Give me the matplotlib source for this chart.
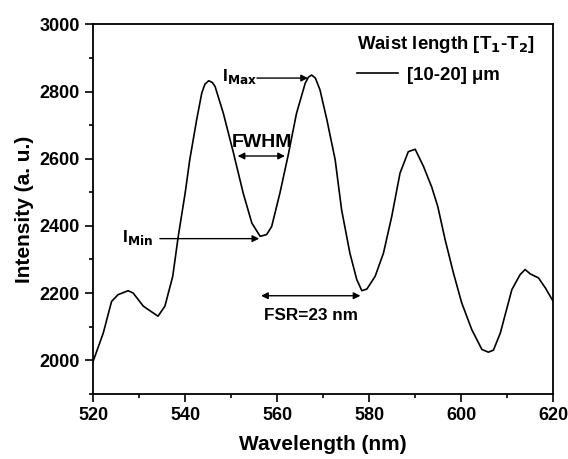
import matplotlib.pyplot as plt
from matplotlib.ticker import MultipleLocator

plt.rcParams['font.family'] = ['Liberation Sans', 'DejaVu Sans']
plt.rcParams['font.weight'] = 'bold'
plt.rcParams['mathtext.default'] = 'bf'

# spectrum
wavelength = [520.0, 522.2, 524.0, 525.4, 527.6, 528.7, 530.9, 534.1, 535.6, 537.3,
              538.5, 540.0, 541.0, 542.5, 543.6, 544.3, 545.1, 545.9, 546.5, 548.3,
              550.5, 552.6, 554.5, 556.3, 557.7, 558.8, 560.6, 562.4, 564.2, 566.1,
              566.8, 567.5, 568.3, 569.3, 570.8, 572.6, 574.0, 575.8, 577.3, 578.4,
              579.5, 581.3, 583.1, 584.9, 586.7, 588.5, 590.0, 591.8, 593.6, 594.9,
              596.5, 598.3, 600.1, 602.3, 604.5, 605.9, 607.0, 608.5, 611.0, 612.8,
              613.9, 615.0, 616.8, 618.3, 620.0]
intensity = [1997, 2081, 2175, 2195, 2207, 2200, 2161, 2131, 2161, 2250,
             2369, 2498, 2597, 2716, 2795, 2822, 2832, 2827, 2815, 2735,
             2617, 2498, 2408, 2369, 2374, 2398, 2498, 2611, 2735, 2825,
             2843, 2849, 2840, 2805, 2716, 2597, 2448, 2319, 2240, 2207,
             2212, 2250, 2319, 2428, 2557, 2621, 2628, 2577, 2515, 2458,
             2359, 2260, 2171, 2091, 2032, 2024, 2030, 2081, 2210, 2255,
             2270, 2257, 2245, 2215, 2175]

fig = plt.figure(figsize=(5.68, 4.59), dpi=100)
ax = fig.add_axes([0.164, 0.142, 0.81, 0.805])
line, = ax.plot(wavelength, intensity, color='black', linewidth=1.2)

ax.set_xlim(520, 620)
ax.set_ylim(1900, 3000)
ax.xaxis.set_major_locator(MultipleLocator(20))
ax.xaxis.set_minor_locator(MultipleLocator(10))
ax.yaxis.set_major_locator(MultipleLocator(200))
ax.yaxis.set_minor_locator(MultipleLocator(100))
ax.tick_params(which='both', direction='out', top=False, right=False,
               width=1.2, labelsize=13)
ax.tick_params(which='major', length=6)
ax.tick_params(which='minor', length=3)
for s in ax.spines.values():
    s.set_linewidth(1.3)

ax.set_xlabel('Wavelength (nm)', fontsize=15, fontweight='bold', labelpad=8)
ax.set_ylabel('Intensity (a. u.)', fontsize=15, fontweight='bold')

# annotations
arrow = dict(arrowstyle='-|>', color='black', lw=1.0, mutation_scale=10)
darrow = dict(arrowstyle='<|-|>', color='black', lw=1.0, mutation_scale=10)
ax.annotate('', xy=(567.3, 2840), xytext=(555.0, 2840), arrowprops=arrow)
ax.text(548.0, 2845, r'I$_{\mathbf{Max}}$', fontsize=12.5, va='center', ha='left')
ax.annotate('', xy=(562.3, 2608), xytext=(550.8, 2608), arrowprops=darrow)
ax.text(556.6, 2648, 'FWHM', fontsize=14, ha='center', va='center')
ax.annotate('', xy=(556.7, 2362), xytext=(533.9, 2362), arrowprops=arrow)
ax.text(526.3, 2365, r'I$_{\mathbf{Min}}$', fontsize=12.5, va='center', ha='left')
ax.annotate('', xy=(578.7, 2192), xytext=(555.9, 2192), arrowprops=darrow)
ax.text(567.3, 2132, 'FSR=23 nm', fontsize=12.3, ha='center', va='center')

leg = ax.legend([line], ['[10-20] μm'], title='Waist length [T$_1$-T$_2$]',
                loc='upper left', bbox_to_anchor=(0.573, 0.975), frameon=False,
                fontsize=13.4, title_fontsize=13.4, handlelength=2.2,
                handletextpad=0.5, borderpad=0, borderaxespad=0, labelspacing=0.65)
leg._legend_box.align = 'left'
leg.get_title().set_fontweight('bold')

fig.savefig('out.png', dpi=100)
